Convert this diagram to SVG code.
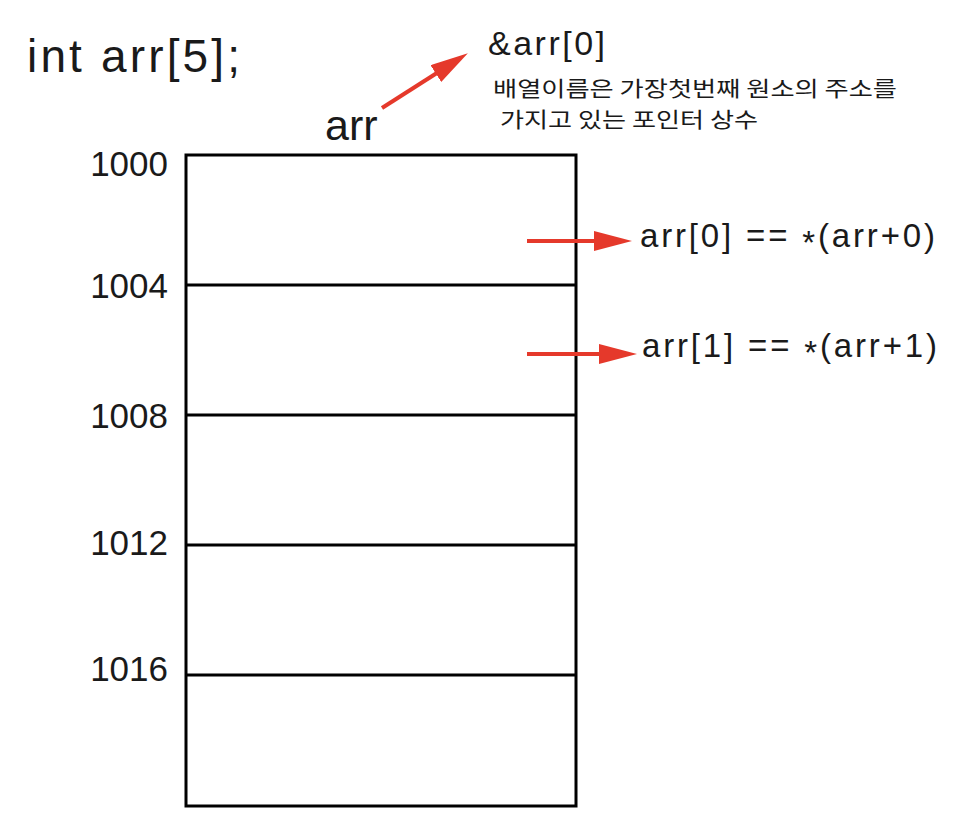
<svg xmlns="http://www.w3.org/2000/svg" width="968" height="834" viewBox="0 0 968 834">
<style>
.t{font-family:"Liberation Sans","Noto Sans",Arial,sans-serif;fill:#1a1a1a}
.k{font-family:"Noto Sans CJK KR","Noto Sans",sans-serif;fill:#1a1a1a}
.addr{font-size:35px;text-anchor:end}
.cell{fill:none;stroke:#000;stroke-width:3}
.arrow{stroke:#e5392b;stroke-width:4;fill:none}
</style>
<defs>
<marker id="head" markerUnits="userSpaceOnUse" markerWidth="40" markerHeight="22" refX="18" refY="10" orient="auto" viewBox="0 0 40 22">
<path d="M0,0 L38,10 L0,20 Z" fill="#e5392b"/>
</marker>
</defs>
<rect width="968" height="834" fill="#fff"/>
<g id="title">
<text class="t" x="27" y="72" font-size="46" textLength="213" lengthAdjust="spacing">int arr[5];</text>
</g>
<g id="array">
<rect class="cell" x="186" y="155" width="390" height="651"/>
<line class="cell" x1="186" y1="285" x2="576" y2="285"/>
<line class="cell" x1="186" y1="415" x2="576" y2="415"/>
<line class="cell" x1="186" y1="545" x2="576" y2="545"/>
<line class="cell" x1="186" y1="675" x2="576" y2="675"/>
</g>
<g id="addresses">
<text class="t addr" x="168" y="176">1000</text>
<text class="t addr" x="168" y="298">1004</text>
<text class="t addr" x="168" y="428">1008</text>
<text class="t addr" x="168" y="555">1012</text>
<text class="t addr" x="168" y="681">1016</text>
</g>
<g id="arr-label">
<text class="t" x="325" y="140" font-size="43">arr</text>
</g>
<g id="addr-label">
<text class="t" x="488" y="55" font-size="34" textLength="117" lengthAdjust="spacing">&amp;arr[0]</text>
<text class="k" x="493" y="96" font-size="21" textLength="404" lengthAdjust="spacingAndGlyphs">배열이름은 가장첫번째 원소의 주소를</text>
<text class="k" x="500" y="127" font-size="21" textLength="258" lengthAdjust="spacingAndGlyphs">가지고 있는 포인터 상수</text>
</g>
<g id="elem0">
<text class="t" x="640" y="247" font-size="33" textLength="295" lengthAdjust="spacing">arr[0] == <tspan dy="7">*</tspan><tspan dy="-7">(arr+0)</tspan></text>
</g>
<g id="elem1">
<text class="t" x="642" y="357" font-size="33" textLength="295" lengthAdjust="spacing">arr[1] == <tspan dy="7">*</tspan><tspan dy="-7">(arr+1)</tspan></text>
</g>
<g id="connectors">
<line class="arrow" x1="382" y1="108" x2="451" y2="64" marker-end="url(#head)"/>
<line class="arrow" x1="527" y1="241" x2="612" y2="241" marker-end="url(#head)"/>
<line class="arrow" x1="527" y1="354" x2="617" y2="354" marker-end="url(#head)"/>
</g>
</svg>
